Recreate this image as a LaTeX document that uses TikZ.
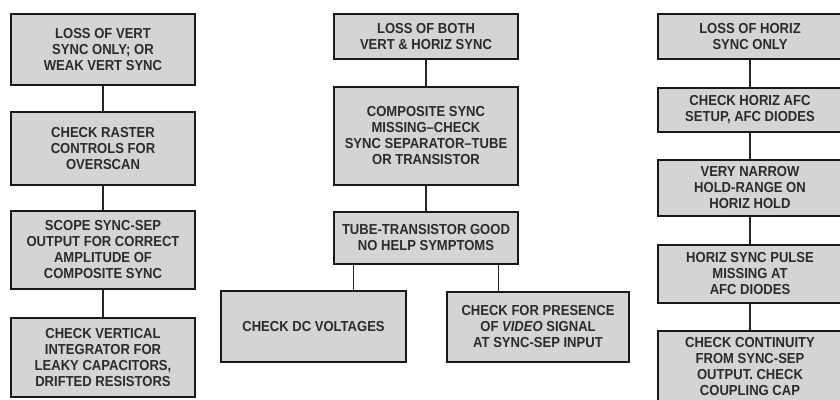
\documentclass[tikz,border=0pt]{standalone}
\usepackage{fontspec}
\setmainfont[FakeStretch=0.9]{Liberation Sans}
\usetikzlibrary{positioning, calc}
\definecolor{boxfill}{gray}{0.83}
\definecolor{inktext}{gray}{0.17}
\tikzset{
  step box/.style={
    rectangle,
    draw=black!90,
    fill=boxfill,
    line width=2pt,
    align=center,
    minimum width=184pt,
    inner sep=2pt,
    text=inktext,
    font=\fontsize{14.5}{16}\selectfont\bfseries
  },
  link/.style={line width=1.4pt, draw=black!85}
}
\begin{document}
\begin{tikzpicture}[x=1pt, y=-1pt, node distance=26pt]
  \useasboundingbox (0,0) rectangle (840,399);

  \node[step box, minimum height=71pt, anchor=north west] (vert) at (10,13) {LOSS OF VERT\\SYNC ONLY; OR\\WEAK VERT SYNC};
  \node[step box, minimum height=73pt, below=25pt of vert] (raster) {CHECK RASTER\\CONTROLS FOR\\OVERSCAN};
  \node[step box, minimum height=78pt, below=24pt of raster] (scope) {SCOPE SYNC-SEP\\OUTPUT FOR CORRECT\\AMPLITUDE OF\\COMPOSITE SYNC};
  \node[step box, minimum height=79pt, below=27pt of scope] (integ) {CHECK VERTICAL\\INTEGRATOR FOR\\LEAKY CAPACITORS,\\DRIFTED RESISTORS};

  \node[step box, minimum height=45pt, anchor=north west] (both) at (333,13) {LOSS OF BOTH\\VERT \& HORIZ SYNC};
  \node[step box, minimum height=98pt, below=of both] (comp) {COMPOSITE SYNC\\MISSING--CHECK\\SYNC SEPARATOR--TUBE\\OR TRANSISTOR};
  \node[step box, minimum height=52pt, below=25pt of comp] (good) {TUBE-TRANSISTOR GOOD\\NO HELP SYMPTOMS};
  \node[step box, minimum height=71pt, minimum width=185pt, anchor=north west] (dcv) at (220,290) {CHECK DC VOLTAGES};
  \node[step box, minimum height=70pt, minimum width=182pt, anchor=north west] (video) at (446,291) {CHECK FOR PRESENCE\\OF \textit{VIDEO} SIGNAL\\AT SYNC-SEP INPUT};

  \node[step box, minimum height=45pt, anchor=north west] (horiz) at (657,13) {LOSS OF HORIZ\\SYNC ONLY};
  \node[step box, minimum height=44pt, below=27pt of horiz] (afc) {CHECK HORIZ AFC\\SETUP, AFC DIODES};
  \node[step box, minimum height=56pt, below=of afc] (hold) {VERY NARROW\\HOLD-RANGE ON\\HORIZ HOLD};
  \node[step box, minimum height=58pt, below=27pt of hold] (pulse) {HORIZ SYNC PULSE\\MISSING AT\\AFC DIODES};
  \node[step box, minimum height=72pt, below=of pulse] (cont) {CHECK CONTINUITY\\FROM SYNC-SEP\\OUTPUT. CHECK\\COUPLING CAP};

  \draw[link] (vert) -- (raster);
  \draw[link] (raster) -- (scope);
  \draw[link] (scope) -- (integ);
  \draw[link] (both) -- (comp);
  \draw[link] (comp) -- (good);
  \draw[link] ($(good.south west)!.11!(good.south east)$) coordinate (tapL) -- (tapL |- dcv.north);
  \draw[link] ($(good.south west)!.89!(good.south east)$) coordinate (tapR) -- (tapR |- video.north);
  \draw[link] (horiz) -- (afc);
  \draw[link] (afc) -- (hold);
  \draw[link] (hold) -- (pulse);
  \draw[link] (pulse) -- (cont);
\end{tikzpicture}
\end{document}
